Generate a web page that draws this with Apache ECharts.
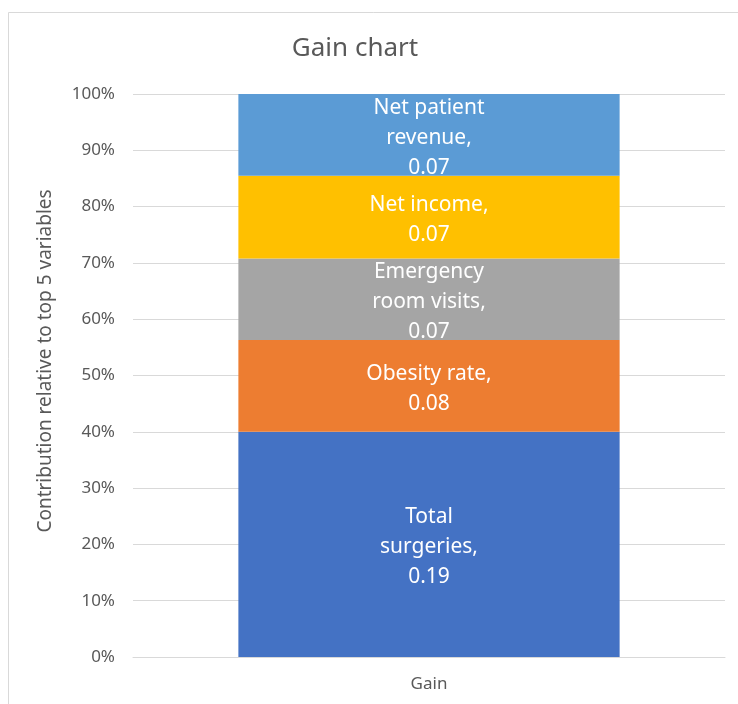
<!DOCTYPE html>
<html>
<head>
<meta charset="utf-8">
<script src="https://cdn.jsdelivr.net/npm/echarts@6/dist/echarts.min.js"></script>
<style>
html,body{margin:0;padding:0;background:#fff;}
#chart{width:738px;height:704px;}
</style>
</head>
<body>
<div id="chart"></div>
<script>
const categories = ['Gain'];
const seriesNames = ['Total surgeries', 'Obesity rate', 'Emergency room visits', 'Net income', 'Net patient revenue'];
const labelNames = ['Total\nsurgeries,', 'Obesity rate,', 'Emergency\nroom visits,', 'Net income,', 'Net patient\nrevenue,'];
const seriesValues = [0.190, 0.0774, 0.0689, 0.0698, 0.0689];
const seriesColors = ['#4472C4', '#ED7D31', '#A5A5A5', '#FFC000', '#5B9BD5'];
const yTicks = [0, 10, 20, 30, 40, 50, 60, 70, 80, 90, 100];

const total = seriesValues.reduce((a, b) => a + b, 0);
const font = '"Noto Sans", "Open Sans", sans-serif';

const chart = echarts.init(document.getElementById('chart'));
chart.setOption({
  animation: false,
  backgroundColor: '#fff',
  graphic: [
    { type: 'rect', shape: { x: 8.5, y: 12.5, width: 800, height: 800 }, style: { fill: 'none', stroke: '#D9D9D9', lineWidth: 1 }, z: -1 },
    { type: 'text', x: 355, y: 49, style: { text: 'Gain chart', font: '26px ' + font, fill: '#595959', align: 'center', verticalAlign: 'middle' } },
    { type: 'text', x: 46, y: 361, rotation: Math.PI / 2, style: { text: 'Contribution relative to top 5 variables', font: '19px ' + font, fill: '#595959', align: 'center', verticalAlign: 'middle' } }
  ],
  grid: { left: 133, right: 13, top: 94, bottom: 47 },
  xAxis: {
    type: 'category',
    data: categories,
    axisLine: { lineStyle: { color: '#D9D9D9', width: 1 } },
    axisTick: { show: false },
    axisLabel: { color: '#595959', fontSize: 17, fontFamily: font, margin: 19 }
  },
  yAxis: {
    type: 'value',
    min: yTicks[0],
    max: yTicks[yTicks.length - 1],
    interval: yTicks[1] - yTicks[0],
    axisLine: { show: false },
    axisTick: { show: false },
    splitLine: { lineStyle: { color: '#D9D9D9', width: 1 } },
    axisLabel: { color: '#595959', fontSize: 17, fontFamily: font, margin: 18, formatter: '{value}%' }
  },
  series: seriesNames.map((name, i) => ({
    name: name,
    type: 'bar',
    stack: 'total',
    barWidth: '64.4%',
    itemStyle: { color: seriesColors[i] },
    label: {
      show: true,
      position: 'inside',
      offset: [0, 3],
      color: '#fff',
      fontSize: 21,
      lineHeight: 30,
      fontFamily: font,
      formatter: () => labelNames[i] + '\n' + seriesValues[i].toFixed(2)
    },
    data: [seriesValues[i] / total * 100]
  }))
});
</script>
</body>
</html>
